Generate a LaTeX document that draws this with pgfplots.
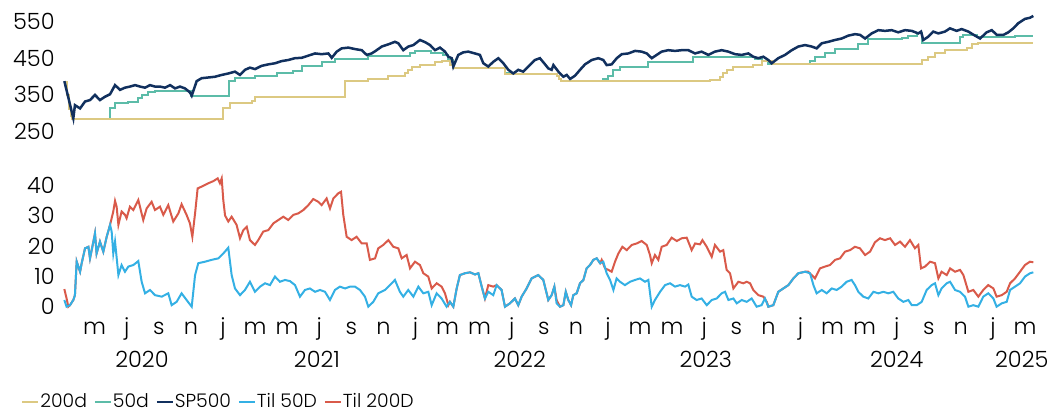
\documentclass[border=0pt]{standalone}
\usepackage{fontspec}
\setmainfont{Poppins}[UprightFont=* Light]
\usepackage{pgfplots}
\pgfplotsset{compat=1.18}

\definecolor{c200}{RGB}{220,201,130}
\definecolor{c50}{RGB}{92,188,168}
\definecolor{csp}{RGB}{17,48,94}
\definecolor{ct50}{RGB}{52,176,228}
\definecolor{ct200}{RGB}{217,90,74}

% x = months since 1 Jan 2020
\pgfplotsset{panel/.style={
    scale only axis, width=493.5pt,
    xmin=2.026, xmax=63.56,
    axis line style={draw=none}, major tick length=0pt, tick style={draw=none},
    clip=false,
    tick label style={font=\fontsize{11.2}{13}\selectfont},
    yticklabel style={anchor=east, inner sep=0pt, xshift=-4pt},
    /pgf/number format/assume math mode=true,
}}

\begin{document}
\begin{tikzpicture}
\useasboundingbox (0,0) rectangle (530.5pt,206pt);

% top panel: index and its 50/200 day lows
\begin{axis}[panel, at={(31.5pt,140.5pt)}, anchor=south west, height=58.25pt,
    ymin=250, ymax=570, ytick={250,350,450,550}, xtick=\empty]
\addplot[const plot, c50, line width=1pt] coordinates {
(2.11,385) (2.25,350) (2.40,310) (2.52,290) (2.67,282) (4.96,312) (5.27,326) (6.10,331)
(6.72,340) (6.97,349) (7.35,356) (7.76,360) (10.01,346) (12.38,387) (12.75,395) (14.00,402)
(15.35,408) (16.39,415) (16.91,429) (18.15,439) (18.98,448) (21.06,456) (23.66,463) (23.97,470)
(24.97,463) (25.74,459) (26.05,445) (26.36,422) (29.58,408) (29.89,406) (32.80,400) (32.95,393)
(33.05,387) (35.71,393) (36.02,402) (36.33,418) (36.75,427) (38.52,440) (41.32,454) (45.17,448)
(45.58,443) (45.96,435) (48.60,441) (48.91,454) (49.53,463) (50.16,474) (51.61,488) (52.19,502)
(54.31,506) (54.73,512) (55.25,518) (55.56,493) (57.95,507) (58.16,514) (58.99,509) (61.38,511)
(62.52,511)};
\addplot[const plot, c200, line width=1pt] coordinates {
(2.11,385) (2.25,350) (2.40,310) (2.52,290) (2.59,282) (12.02,312) (12.44,326) (13.79,332)
(14.00,344) (19.60,386) (21.06,393) (22.31,402) (23.35,408) (23.52,418) (23.76,427) (24.28,431)
(25.22,440) (25.64,443) (26.15,431) (26.36,422) (29.58,406) (32.80,400) (32.95,393) (33.05,387)
(42.36,390) (42.99,399) (43.19,408) (43.40,418) (43.82,427) (45.06,430) (45.58,442) (46.21,435)
(55.56,445) (55.97,454) (56.39,463) (57.01,472) (58.37,479) (58.68,488) (59.09,493) (62.52,493)};
\addplot[csp, line width=1.25pt] coordinates {
(2.11,387) (2.67,285) (2.77,321) (3.09,312) (3.40,331) (3.71,335) (4.02,349) (4.33,335)
(4.64,344) (4.96,351) (5.27,376) (5.58,363) (5.89,369) (6.20,372) (6.52,376) (6.83,372)
(7.14,369) (7.45,376) (7.76,372) (8.07,372) (8.39,369) (8.70,376) (9.01,367) (9.32,372)
(9.63,367) (9.94,356) (10.05,347) (10.36,387) (10.67,395) (11.09,397) (11.50,399) (11.92,404)
(12.33,408) (12.75,413) (13.06,404) (13.37,418) (13.68,424) (14.00,420) (14.41,429) (14.83,433)
(15.24,436) (15.66,442) (16.07,445) (16.49,450) (16.91,451) (17.32,457) (17.74,463) (18.15,461)
(18.57,463) (18.78,451) (19.09,468) (19.40,477) (19.82,479) (20.23,475) (20.65,472) (20.96,459)
(21.27,463) (21.58,472) (21.90,482) (22.31,488) (22.72,495) (22.93,491) (23.24,472) (23.56,482)
(23.87,486) (24.28,500) (24.60,494) (24.91,486) (25.22,472) (25.53,479) (25.84,468) (26.05,454)
(26.26,450) (26.36,427) (26.67,459) (26.98,466) (27.29,468) (27.71,463) (28.02,459) (28.23,436)
(28.54,427) (28.85,440) (29.17,450) (29.48,436) (29.79,418) (30.10,408) (30.41,418) (30.72,413)
(31.04,427) (31.45,445) (31.76,450) (32.08,433) (32.28,422) (32.49,418) (32.60,431) (32.91,413)
(33.22,399) (33.43,404) (33.64,393) (33.95,402) (34.26,418) (34.57,433) (34.99,445) (35.40,450)
(35.71,445) (35.92,431) (36.23,433) (36.55,450) (36.86,461) (37.27,463) (37.69,470) (38.10,468)
(38.42,463) (38.73,450) (39.04,459) (39.35,468) (39.76,472) (40.18,470) (40.60,472) (41.01,472)
(41.43,463) (41.84,468) (42.26,459) (42.67,468) (43.09,472) (43.50,468) (43.92,461) (44.34,459)
(44.75,463) (45.06,454) (45.37,450) (45.69,454) (46.00,445) (46.21,436) (46.62,450) (47.04,459)
(47.46,472) (47.87,482) (48.29,486) (48.70,482) (49.01,477) (49.33,491) (49.74,495) (50.16,500)
(50.57,504) (50.99,512) (51.40,516) (51.72,514) (52.03,504) (52.44,518) (52.86,527) (53.27,525)
(53.69,527) (54.10,521) (54.52,527) (54.94,525) (55.35,518) (55.52,523) (55.66,500) (55.97,509)
(56.28,523) (56.60,518) (57.01,523) (57.32,532) (57.74,525) (58.05,530) (58.47,523) (58.88,512)
(59.20,504) (59.61,521) (59.93,527) (60.24,514) (60.65,514) (60.96,521) (61.27,532) (61.58,546)
(62.00,558) (62.31,561) (62.52,566)};
\end{axis}

% bottom panel: distance to the lows, per cent
\begin{axis}[panel, at={(31.5pt,52.65pt)}, anchor=south west, height=66.9pt,
    ymin=0, ymax=44, ytick={0,10,20,30,40},
    xtick={4,6,...,62},
    xticklabels={m,j,s,n,j,m,m,j,s,n,j,m,m,j,s,n,j,m,m,j,s,n,j,m,m,j,s,n,j,m},
    xticklabel style={anchor=base, inner sep=0pt, yshift=-14pt},
    extra x ticks={6.95,17.86,30.5,42.1,54.0,61.8},
    extra x tick labels={2020,2021,2022,2023,2024,2025},
    extra x tick style={xticklabel style={yshift=-16.5pt}},
    legend columns=-1,
    legend image code/.code={\draw[#1] (0pt,0pt) -- (8pt,0pt);},
    legend style={draw=none, fill=none, inner sep=0pt,
        at={(axis description cs:-0.0426,-0.71)}, anchor=west,
        font=\fontsize{9.4}{11}\selectfont,
        nodes={inner sep=0.5pt},
        /tikz/every even column/.append style={column sep=3pt}},
]
\addlegendimage{c200, line width=1pt}
\addlegendimage{c50, line width=1pt}
\addlegendimage{csp, line width=1pt}
\addlegendimage{ct50, line width=1pt}
\addlegendimage{ct200, line width=1pt}
\legend{200d, 50d, SP500, Til 50D, Til 200D}

\addplot[ct200, line width=1pt, forget plot] coordinates {
(2.11,5.8) (2.25,2.7) (2.36,0) (2.46,0.5) (2.67,2.2) (2.77,3.8) (2.88,14.8) (3.09,11.5)
(3.19,14.3) (3.40,19.2) (3.61,19.7) (3.71,15.9) (3.92,21.4) (4.02,24.1) (4.12,17.5) (4.33,21.4)
(4.54,18.1) (4.75,23.0) (4.96,26.9) (5.16,31.3) (5.27,34.8) (5.37,32.9) (5.48,26.9) (5.68,31.3)
(5.89,30.2) (5.99,29.1) (6.20,32.9) (6.41,31.8) (6.72,35.1) (7.03,28.5) (7.24,32.3) (7.55,34.5)
(7.76,31.8) (8.07,32.9) (8.28,30.2) (8.59,33.4) (8.90,28.0) (9.22,30.7) (9.42,33.7) (9.73,30.2)
(9.94,27.4) (10.09,23.0) (10.26,30.7) (10.42,38.9) (10.67,39.5) (11.09,40.6) (11.40,41.3)
(11.67,42.2) (11.81,40.6) (11.92,42.2) (12.02,35.0) (12.13,30.0) (12.33,28.0) (12.54,29.6)
(12.85,26.9) (13.06,22.5) (13.27,25.2) (13.48,26.3) (13.68,21.9) (13.99,20.3) (14.20,21.9)
(14.51,24.7) (14.83,25.2) (15.14,27.4) (15.45,28.5) (15.76,29.6) (16.07,28.5) (16.39,30.2)
(16.70,30.7) (17.01,31.8) (17.32,33.4) (17.63,35.4) (17.94,34.5) (18.15,33.4) (18.46,35.6)
(18.67,32.3) (18.88,35.6) (19.19,37.3) (19.36,37.8) (19.50,30.2) (19.71,23.0) (20.02,21.9)
(20.33,23.0) (20.65,20.8) (20.96,20.8) (21.16,15.4) (21.48,15.9) (21.68,19.2) (21.99,20.3)
(22.31,21.9) (22.62,19.7) (22.93,19.2) (23.14,15.9) (23.45,17.0) (23.66,12.6) (23.97,14.8)
(24.28,13.7) (24.49,11.0) (24.80,9.9) (25.01,6.0) (25.32,7.7) (25.63,6.6) (25.84,4.4)
(26.05,0.5) (26.15,1.6) (26.36,0) (26.57,6.0) (26.77,10.4) (27.09,11.0) (27.40,11.3)
(27.71,10.6) (27.92,11.0) (28.13,6.6) (28.33,2.7) (28.54,7.1) (28.85,6.6) (29.06,7.1)
(29.37,5.5) (29.58,0) (29.89,1.1) (30.20,2.7) (30.41,0.5) (30.62,3.3) (30.93,6.0) (31.24,9.3)
(31.66,10.4) (31.97,8.8) (32.28,2.2) (32.49,3.8) (32.66,6.6) (32.80,2.2) (33.01,0) (33.22,0.5)
(33.37,4.9) (33.53,2.2) (33.70,0.5) (33.84,3.8) (34.05,4.4) (34.26,7.7) (34.47,8.8) (34.67,12.6)
(34.88,13.7) (35.09,15.4) (35.30,15.9) (35.51,14.3) (35.61,15.4) (35.82,12.6) (36.03,12.1)
(36.23,11.5) (36.44,14.8) (36.65,17.5) (36.90,19.7) (37.17,18.6) (37.48,20.3) (37.79,20.8)
(38.10,21.6) (38.42,20.3) (38.62,17.0) (38.73,14.3) (38.93,17.0) (39.14,15.4) (39.35,19.7)
(39.66,20.3) (39.97,22.7) (40.29,21.6) (40.60,22.5) (40.91,22.7) (41.22,18.6) (41.43,20.8)
(41.74,20.5) (41.89,21.9) (42.16,19.7) (42.47,16.4) (42.67,20.3) (42.99,18.1) (43.19,18.6)
(43.40,12.1) (43.61,11.0) (43.82,6.0) (44.13,8.2) (44.44,7.7) (44.65,8.2) (44.86,7.7)
(45.06,5.5) (45.38,3.8) (45.69,3.3) (45.90,1.6) (46.00,0) (46.31,0.5) (46.62,4.9) (46.93,6.0)
(47.25,7.1) (47.56,9.3) (47.87,11.0) (48.29,11.5) (48.49,11.5) (48.70,10.4) (48.91,9.3)
(49.22,12.6) (49.53,13.2) (49.84,13.7) (50.16,15.4) (50.47,15.9) (50.78,18.1) (51.09,18.6)
(51.40,19.7) (51.71,19.2) (52.03,17.0) (52.34,18.1) (52.65,21.2) (52.96,22.5) (53.27,21.9)
(53.59,22.5) (53.90,20.3) (54.21,21.4) (54.52,19.7) (54.83,21.9) (55.14,19.2) (55.35,20.3)
(55.52,12.6) (55.77,13.2) (56.08,14.8) (56.39,14.3) (56.60,9.3) (56.80,11.5) (57.12,10.4)
(57.33,12.6) (57.64,11.5) (57.95,12.1) (58.16,10.4) (58.47,4.9) (58.78,5.5) (59.09,3.3)
(59.40,5.5) (59.71,7.1) (60.03,6.0) (60.23,3.3) (60.55,3.8) (60.86,4.9) (61.07,7.7) (61.38,9.3)
(61.69,11.5) (62.00,13.7) (62.31,14.8) (62.52,14.6)};
\addplot[ct50, line width=1pt, forget plot] coordinates {
(2.11,2.2) (2.25,0) (2.46,0.5) (2.67,2.2) (2.77,3.8) (2.88,14.8) (3.09,11.5) (3.19,14.3)
(3.40,19.2) (3.61,19.7) (3.71,15.9) (3.92,21.4) (4.02,24.1) (4.12,17.5) (4.33,21.4) (4.54,18.1)
(4.75,23.0) (4.96,26.9) (5.06,24.7) (5.16,17.5) (5.27,21.4) (5.48,10.4) (5.68,13.7) (5.89,11.5)
(6.10,13.2) (6.41,13.7) (6.72,15.0) (6.93,8.2) (7.14,4.4) (7.45,5.5) (7.76,3.8) (8.18,3.3)
(8.59,4.4) (8.80,0.5) (9.11,1.6) (9.42,4.4) (9.73,2.2) (10.05,0) (10.26,10.4) (10.46,14.3)
(10.88,14.8) (11.29,15.4) (11.71,15.9) (12.02,17.5) (12.33,19.4) (12.54,10.4) (12.75,6.0)
(13.06,3.8) (13.37,5.5) (13.68,8.2) (13.99,4.9) (14.31,6.6) (14.62,7.7) (14.93,7.1) (15.24,9.9)
(15.55,8.2) (15.87,8.8) (16.18,8.4) (16.49,7.1) (16.80,3.3) (17.11,5.5) (17.42,6.0) (17.74,4.9)
(18.05,5.5) (18.36,4.9) (18.67,2.2) (18.98,5.5) (19.29,6.6) (19.61,6.0) (19.92,6.6) (20.23,6.6)
(20.54,5.5) (20.85,3.3) (21.06,0) (21.37,1.6) (21.68,4.4) (22.10,5.5) (22.41,7.1) (22.72,8.8)
(23.03,4.9) (23.24,3.3) (23.55,5.5) (23.87,3.3) (24.18,6.6) (24.49,4.4) (24.80,4.9) (25.01,0.5)
(25.32,4.4) (25.63,2.7) (25.94,0) (26.15,1.6) (26.36,0) (26.57,6.0) (26.77,10.4) (27.09,11.0)
(27.40,11.3) (27.71,10.6) (27.92,11.0) (28.13,6.6) (28.33,2.7) (28.54,4.9) (28.85,3.8)
(29.06,7.1) (29.37,5.5) (29.58,0) (29.89,1.1) (30.20,2.7) (30.41,0.5) (30.62,3.3) (30.93,6.0)
(31.24,9.3) (31.66,10.4) (31.97,8.8) (32.28,2.2) (32.49,3.8) (32.66,6.6) (32.80,1.1) (33.01,0)
(33.22,0.5) (33.37,4.9) (33.53,2.2) (33.70,0.5) (33.84,3.8) (34.05,4.4) (34.26,7.7) (34.47,8.8)
(34.67,12.6) (34.88,13.7) (35.09,15.4) (35.30,15.9) (35.51,14.3) (35.71,14.8) (35.92,11.0)
(36.13,8.8) (36.34,5.5) (36.54,9.3) (36.75,8.2) (37.06,7.1) (37.38,8.2) (37.69,8.8) (38.00,9.3)
(38.31,8.2) (38.52,8.8) (38.73,0) (38.93,2.2) (39.25,4.9) (39.56,7.1) (39.87,7.7) (40.18,6.6)
(40.49,7.1) (40.81,6.6) (41.01,7.3) (41.22,3.3) (41.53,2.2) (41.84,2.7) (42.16,0.5) (42.47,2.2)
(42.78,2.7) (43.09,4.4) (43.30,4.9) (43.51,2.2) (43.82,2.7) (44.03,1.1) (44.34,2.2) (44.65,1.6)
(44.96,2.7) (45.27,0) (45.58,0.5) (45.79,2.7) (46.00,0) (46.31,0.5) (46.62,4.9) (46.93,6.0)
(47.25,7.1) (47.56,9.3) (47.87,11.0) (48.29,11.5) (48.60,11.0) (48.81,7.1) (49.01,4.4)
(49.33,5.5) (49.64,4.4) (49.95,6.0) (50.26,5.5) (50.57,6.6) (50.88,8.2) (51.19,8.8) (51.40,7.1)
(51.61,4.9) (51.92,3.3) (52.23,2.7) (52.55,4.9) (52.86,4.4) (53.17,4.9) (53.48,4.4) (53.79,4.9)
(54.10,2.7) (54.42,1.6) (54.73,2.2) (54.94,0.5) (55.25,0.5) (55.56,1.6) (55.87,5.5) (56.18,7.1)
(56.39,7.7) (56.60,3.8) (56.80,6.0) (57.12,7.7) (57.33,8.2) (57.64,5.5) (57.95,4.9) (58.26,3.3)
(58.47,0) (58.78,0.5) (59.09,0) (59.40,3.3) (59.71,4.4) (60.03,2.7) (60.23,0) (60.55,1.1)
(60.86,1.6) (61.07,5.5) (61.38,6.6) (61.69,7.7) (62.00,9.9) (62.31,11.0) (62.52,11.3)};
\end{axis}
\end{tikzpicture}
\end{document}
